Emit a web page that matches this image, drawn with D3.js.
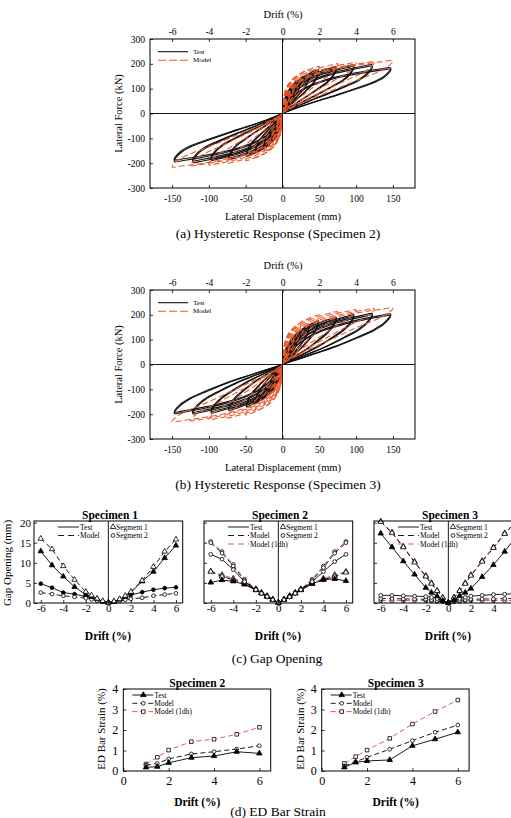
<!DOCTYPE html>
<html><head><meta charset="utf-8">
<script src="https://cdn.jsdelivr.net/npm/d3@7"></script>
<style>
body{margin:0;background:#fff}
svg text{font-family:"Liberation Serif","Times New Roman",serif;fill:#000}
</style>
</head><body>
<svg id="c" width="511" height="818"></svg>
<script>
// ================= DATA =================
// Hysteretic response panels
const dispTicks = [-150, -100, -50, 0, 50, 100, 150];
const forceTicks = [-300, -200, -100, 0, 100, 200, 300];
const driftTopTicks = [-6, -4, -2, 0, 2, 4, 6];

const testAmp  = [12.5, 19, 25, 37, 49, 73, 97, 122, 147];   // mm
const modelAmp = [12.5, 19, 25, 37.5, 50, 75, 100, 125, 150]; // mm
const loadFrac   = [0.04, 0.1, 0.2, 0.35, 0.55, 0.75, 0.9, 1];
const unloadFrac = [0.95, 0.85, 0.7, 0.5, 0.3, 0.15, 0.05, 0];

// Specimen 2 (test: first and second cycle peaks, kN)
const s2TestPosPeak   = [90, 115, 135, 160, 176, 188, 195, 196, 184];
const s2TestNegPeak   = [-88, -112, -132, -158, -172, -185, -188, -197, -193];
const s2TestPosPeak2  = [86, 110, 130, 154, 170, 182, 189, 190, 178];
const s2TestNegPeak2  = [-84, -108, -127, -152, -166, -179, -182, -190, -186];
const s2ModelPosPeak  = [110, 135, 155, 178, 190, 200, 205, 208, 213];
const s2ModelNegPeak  = [-110, -135, -155, -178, -190, -200, -207, -210, -215];
const s2TestLoad    = [0.2, 0.38, 0.55, 0.7, 0.83, 0.92, 0.975, 1];
const s2TestUnload  = [0.84, 0.7, 0.57, 0.41, 0.26, 0.14, 0.05, 0];
const s2ModelLoad   = [0.3, 0.5, 0.65, 0.77, 0.87, 0.94, 0.98, 1];
const s2ModelUnload = [0.88, 0.77, 0.65, 0.48, 0.31, 0.17, 0.07, 0];

// Specimen 3
const s3TestPosPeak   = [85, 110, 130, 158, 176, 190, 200, 205, 203];
const s3TestNegPeak   = [-85, -110, -130, -155, -170, -185, -195, -198, -197];
const s3TestPosPeak2  = [81, 105, 125, 152, 170, 184, 194, 199, 197];
const s3TestNegPeak2  = [-81, -105, -125, -149, -164, -179, -189, -192, -191];
const s3ModelPosPeak  = [105, 135, 158, 185, 200, 213, 220, 224, 227];
const s3ModelNegPeak  = [-110, -138, -160, -188, -203, -215, -222, -226, -230];
const s3TestLoad    = [0.15, 0.32, 0.5, 0.67, 0.81, 0.91, 0.97, 1];
const s3TestUnload  = [0.85, 0.7, 0.55, 0.37, 0.22, 0.11, 0.04, 0];
const s3ModelLoad   = [0.3, 0.5, 0.65, 0.77, 0.87, 0.94, 0.98, 1];
const s3ModelUnload = [0.9, 0.8, 0.68, 0.5, 0.32, 0.18, 0.07, 0];

// Gap opening panels
const gapDrift = [-6, -5, -4, -3, -2, -1.5, -1, -0.5, 0, 0.5, 1, 1.5, 2, 3, 4, 5, 6];
const gapYTicks = [0, 5, 10, 15, 20];
const gapXTicks = [-6, -4, -2, 0, 2, 4, 6];
// Specimen 1
const g1TestSeg1  = [12.9, 9.4, 6.6, 4.0, 2.1, 1.5, 1.0, 0.4, 0.1, 0.3, 0.9, 1.6, 2.6, 5.4, 7.8, 11.2, 14.3];
const g1ModelSeg1 = [16.0, 13.4, 9.2, 5.8, 2.8, 1.9, 1.1, 0.5, 0.1, 0.4, 1.0, 1.8, 2.8, 5.6, 9.0, 12.8, 15.8];
const g1TestSeg2  = [4.8, 3.8, 2.6, 2.2, 1.6, 1.2, 0.8, 0.4, 0.1, 0.3, 0.7, 1.2, 2.0, 2.7, 3.3, 3.7, 3.9];
const g1ModelSeg2 = [2.6, 2.2, 1.8, 1.5, 1.2, 0.9, 0.6, 0.3, 0.1, 0.3, 0.5, 0.8, 1.0, 1.3, 1.8, 2.1, 2.4];
// Specimen 2
const g2TestSeg1  = [5.1, 5.7, 5.4, 4.6, 3.2, 2.4, 1.6, 0.8, 0.1, 0.8, 1.6, 2.4, 3.2, 4.8, 5.8, 6.0, 5.5];
const g2TestSeg2  = [12.1, 10.9, 8.3, 5.3, 3.3, 2.4, 1.6, 0.8, 0.1, 0.8, 1.5, 2.4, 3.3, 5.3, 7.8, 10.3, 12.1];
const g2ModelSeg1 = [7.8, 6.6, 5.8, 4.8, 3.3, 2.5, 1.7, 0.9, 0.1, 0.9, 1.7, 2.5, 3.3, 4.8, 5.8, 6.6, 7.6];
const g2ModelSeg2 = [15.0, 12.4, 9.2, 5.6, 3.3, 2.4, 1.5, 0.8, 0.1, 0.8, 1.5, 2.4, 3.3, 5.6, 8.8, 12.4, 15.0];
const g2DhSeg1    = [7.9, 7.0, 6.1, 5.1, 3.5, 2.6, 1.8, 0.9, 0.1, 0.9, 1.8, 2.6, 3.5, 5.1, 6.1, 7.0, 7.8];
const g2DhSeg2    = [15.3, 12.8, 9.6, 5.9, 3.5, 2.5, 1.6, 0.8, 0.1, 0.8, 1.6, 2.5, 3.5, 5.9, 9.2, 12.8, 15.3];
// Specimen 3
const g3TestSeg1  = [17.3, 13.9, 10.4, 7.1, 3.8, 2.6, 1.7, 0.6, 0.1, 0.7, 1.8, 2.6, 3.6, 6.5, 9.5, 12.8, 16.5];
const g3ModelSeg1 = [20.2, 17.4, 13.9, 10.1, 6.6, 4.8, 3.0, 1.3, 0.1, 1.3, 3.0, 4.8, 6.8, 10.3, 13.7, 17.2, 20.2];
const g3DhSeg1    = [20.3, 17.6, 14.1, 10.3, 6.8, 5.0, 3.1, 1.4, 0.1, 1.4, 3.1, 5.0, 7.0, 10.5, 13.9, 17.4, 20.3];
const g3TestSeg2  = [1.9, 1.9, 1.8, 1.7, 1.6, 1.4, 1.1, 0.6, 0.1, 0.6, 1.1, 1.4, 1.7, 1.9, 2.1, 2.2, 2.3];
const g3ModelSeg2 = [1.1, 1.1, 1.0, 1.0, 0.9, 0.8, 0.6, 0.4, 0.1, 0.4, 0.6, 0.8, 0.9, 1.0, 1.0, 1.1, 1.1];
const g3DhSeg2    = [0.6, 0.6, 0.6, 0.6, 0.6, 0.5, 0.4, 0.3, 0.1, 0.3, 0.4, 0.5, 0.6, 0.6, 0.6, 0.6, 0.6];

// ED bar strain panels
const strainDrift = [1, 1.5, 2, 3, 4, 5, 6];
const strainYTicks = [0, 1, 2, 3, 4];
const strainXTicks = [0, 2, 4, 6];
const s2StrainTest  = [0.18, 0.21, 0.40, 0.65, 0.73, 0.94, 0.86];
const s2StrainModel = [0.28, 0.37, 0.59, 0.83, 0.94, 1.07, 1.23];
const s2StrainDh    = [0.34, 0.67, 1.02, 1.43, 1.55, 1.79, 2.13];
const s3StrainTest  = [0.18, 0.42, 0.49, 0.54, 1.23, 1.55, 1.89];
const s3StrainModel = [0.25, 0.45, 0.67, 1.06, 1.48, 1.89, 2.24];
const s3StrainDh    = [0.37, 0.70, 1.02, 1.59, 2.29, 2.90, 3.46];

// ================= DRAWING =================
const FONT = '"Liberation Serif","Times New Roman",serif';
const ORANGE = '#ee5a2c';
const RED = '#e8413a';
const svg = d3.select('#c');
const defs = svg.append('defs');
let clipN = 0;

function styleAxis(g, size) {
  g.attr('font-family', FONT).attr('font-size', size);
  g.select('.domain').remove();
  g.selectAll('.tick line').attr('stroke', '#000').attr('stroke-width', 0.8);
}
function txt(x, y, s, size, opts = {}) {
  const t = svg.append('text').attr('x', x).attr('y', y).text(s)
    .attr('font-size', size).attr('text-anchor', opts.anchor || 'middle')
    .attr('dominant-baseline', 'central');
  if (opts.bold) t.attr('font-weight', 'bold');
  if (opts.rotate) t.attr('transform', `rotate(-90,${x},${y})`);
  return t;
}
function addClip(x, y, w, h) {
  const id = 'clip' + (clipN++);
  defs.append('clipPath').attr('id', id).append('rect')
    .attr('x', x).attr('y', y).attr('width', w).attr('height', h);
  return `url(#${id})`;
}
function loopPts(A, pP, pN, load, unload) {
  const pts = [[0, 0]];
  loadFrac.forEach((f, k) => pts.push([f * A, load[k] * pP]));
  unloadFrac.forEach((f, k) => pts.push([f * A, unload[k] * pP]));
  loadFrac.forEach((f, k) => pts.push([-f * A, load[k] * pN]));
  unloadFrac.forEach((f, k) => pts.push([-f * A, unload[k] * pN]));
  return pts;
}

function hystPanel(top, test, model, caption) {
  const left = 150, right = 415, bottom = top + 149;
  const x = d3.scaleLinear().domain([-180, 180]).range([left, right]);
  const xd = d3.scaleLinear().domain([-7.2, 7.2]).range([left, right]);
  const y = d3.scaleLinear().domain([-300, 300]).range([bottom, top]);
  const g = svg.append('g').attr('clip-path', addClip(left, top, right - left, bottom - top));
  const line = d3.line().x(d => x(d[0])).y(d => y(d[1])).curve(d3.curveCatmullRom.alpha(0.5));
  testAmp.forEach((A, i) => {
    [[test.pos, test.neg], [test.pos2, test.neg2]].forEach(pk => {
      g.append('path').attr('d', line(loopPts(A, pk[0][i], pk[1][i], test.load, test.unload)))
        .attr('fill', 'none').attr('stroke', '#111').attr('stroke-width', 1.15);
    });
  });
  modelAmp.forEach((A, i) => {
    g.append('path').attr('d', line(loopPts(A, model.pos[i], model.neg[i], model.load, model.unload)))
      .attr('fill', 'none').attr('stroke', ORANGE).attr('stroke-width', 1.1).attr('stroke-dasharray', '6,3');
  });
  svg.append('line').attr('x1', x(0)).attr('x2', x(0)).attr('y1', top).attr('y2', bottom).attr('stroke', '#000').attr('stroke-width', 0.9);
  svg.append('line').attr('x1', left).attr('x2', right).attr('y1', y(0)).attr('y2', y(0)).attr('stroke', '#000').attr('stroke-width', 0.9);
  svg.append('rect').attr('x', left).attr('y', top).attr('width', right - left).attr('height', bottom - top)
    .attr('fill', 'none').attr('stroke', '#000').attr('stroke-width', 1);
  styleAxis(svg.append('g').attr('transform', `translate(0,${bottom})`)
    .call(d3.axisBottom(x).tickValues(dispTicks).tickSize(-3).tickPadding(7).tickFormat(d => String(d))), 9.5);
  styleAxis(svg.append('g').attr('transform', `translate(${left},0)`)
    .call(d3.axisLeft(y).tickValues(forceTicks).tickSize(-3).tickPadding(5).tickFormat(d => String(d))), 9.5);
  styleAxis(svg.append('g').attr('transform', `translate(0,${top})`)
    .call(d3.axisTop(xd).tickValues(driftTopTicks).tickSize(-3).tickPadding(4).tickFormat(d => String(d))), 9.5);
  txt(283, top - 25, 'Drift (%)', 10.5);
  txt(283, bottom + 28, 'Lateral Displacement (mm)', 10.5);
  txt(118, (top + bottom) / 2, 'Lateral Force (kN)', 10.5, {rotate: true});
  txt(278, bottom + 45, caption, 13.5);
  // legend
  const ly = top + 12.7;
  svg.append('rect').attr('x', 156).attr('y', ly - 5).attr('width', 50).attr('height', 18).attr('fill', '#fff');
  svg.append('line').attr('x1', 158).attr('x2', 188).attr('y1', ly).attr('y2', ly).attr('stroke', '#111').attr('stroke-width', 1.1);
  svg.append('line').attr('x1', 158).attr('x2', 188).attr('y1', ly + 8.5).attr('y2', ly + 8.5).attr('stroke', ORANGE)
    .attr('stroke-width', 1.1).attr('stroke-dasharray', '8,3');
  txt(193, ly, 'Test', 7, {anchor: 'start'});
  txt(193, ly + 8.5, 'Model', 7, {anchor: 'start'});
}

hystPanel(39,
  {pos: s2TestPosPeak, neg: s2TestNegPeak, pos2: s2TestPosPeak2, neg2: s2TestNegPeak2, load: s2TestLoad, unload: s2TestUnload},
  {pos: s2ModelPosPeak, neg: s2ModelNegPeak, load: s2ModelLoad, unload: s2ModelUnload},
  '(a) Hysteretic Response (Specimen 2)');
hystPanel(290,
  {pos: s3TestPosPeak, neg: s3TestNegPeak, pos2: s3TestPosPeak2, neg2: s3TestNegPeak2, load: s3TestLoad, unload: s3TestUnload},
  {pos: s3ModelPosPeak, neg: s3ModelNegPeak, load: s3ModelLoad, unload: s3ModelUnload},
  '(b) Hysteretic Response (Specimen 3)');

function mark(g, type, cx, cy, fill) {
  const sym = type === 'tri' ? d3.symbolTriangle : type === 'sq' ? d3.symbolSquare : d3.symbolCircle;
  const size = type === 'tri' ? 13 : type === 'sq' ? 13 : 11;
  g.append('path').attr('d', d3.symbol(sym, size)()).attr('transform', `translate(${cx},${cy})`)
    .attr('fill', fill).attr('stroke', '#000').attr('stroke-width', 0.8);
}

function seriesDraw(g, x, y, xs, ys, style) {
  const line = d3.line().x((d, i) => x(xs[i])).y(d => y(d));
  g.append('path').attr('d', line(ys)).attr('fill', 'none').attr('stroke', style.color)
    .attr('stroke-width', 0.9).attr('stroke-dasharray', style.dash || null);
  ys.forEach((v, i) => mark(g, style.marker, x(xs[i]), y(v), style.fill));
}

const TEST = {color: '#000', dash: null, fill: '#000'};
const MODEL = {color: '#000', dash: '5,3', fill: '#fff'};
const DH = {color: RED, dash: '5,3', fill: '#fff'};

function gapPanel(x0, title, series, showY, hasDh) {
  const top = 521, bottom = 603, w = 148.7;
  const x = d3.scaleLinear().domain([-6.6, 6.6]).range([x0, x0 + w]);
  const y = d3.scaleLinear().domain([0, 20.4]).range([bottom, top]);
  const g = svg.append('g').attr('clip-path', addClip(x0, top - 4, w, bottom - top + 8));
  series.forEach(s => seriesDraw(g, x, y, gapDrift, s.v, Object.assign({marker: s.m}, s.st)));
  svg.append('line').attr('x1', x(0)).attr('x2', x(0)).attr('y1', top).attr('y2', bottom).attr('stroke', '#000').attr('stroke-width', 0.9);
  svg.append('rect').attr('x', x0).attr('y', top).attr('width', w).attr('height', bottom - top)
    .attr('fill', 'none').attr('stroke', '#000').attr('stroke-width', 1);
  styleAxis(svg.append('g').attr('transform', `translate(0,${bottom})`)
    .call(d3.axisBottom(x).tickValues(gapXTicks.filter(t => x(t) < 508)).tickSize(-3).tickPadding(1).tickFormat(d => String(d))), 11);
  const ya = svg.append('g').attr('transform', `translate(${x0},0)`)
    .call(d3.axisLeft(y).tickValues(gapYTicks).tickSize(-3).tickPadding(3).tickFormat(d => showY ? String(d) : ''));
  styleAxis(ya, 11);
  txt(x0 + 76, 515, title, 11.5, {bold: true});
  txt(x0 + 74, 636, 'Drift (%)', 11.5, {bold: true});
  // legend
  const lg = svg.append('g');
  const rows = [['Test', TEST], ['Model', MODEL]];
  if (hasDh) rows.push(['Model (1dh)', DH]);
  rows.forEach((r, i) => {
    const ly = 527 + i * 8.5;
    lg.append('line').attr('x1', x0 + 24).attr('x2', x0 + 45).attr('y1', ly).attr('y2', ly)
      .attr('stroke', r[1].color).attr('stroke-width', 0.9).attr('stroke-dasharray', r[1].dash ? '6,4' : null);
    txt(x0 + 46, ly, r[0], 7.5, {anchor: 'start'});
  });
  [['tri', 'Segment 1'], ['circle', 'Segment 2']].forEach((r, i) => {
    const ly = 527 + i * 8.5;
    mark(lg, r[0], x0 + 79, ly, '#fff');
    txt(x0 + 82, ly, r[1], 7.5, {anchor: 'start'});
  });
}

gapPanel(34, 'Specimen 1', [
  {v: g1TestSeg2, m: 'circle', st: TEST},
  {v: g1ModelSeg2, m: 'circle', st: MODEL},
  {v: g1TestSeg1, m: 'tri', st: TEST},
  {v: g1ModelSeg1, m: 'tri', st: MODEL}
], true, false);
gapPanel(204, 'Specimen 2', [
  {v: g2DhSeg1, m: 'tri', st: DH},
  {v: g2DhSeg2, m: 'circle', st: DH},
  {v: g2ModelSeg1, m: 'tri', st: MODEL},
  {v: g2ModelSeg2, m: 'circle', st: MODEL},
  {v: g2TestSeg1, m: 'tri', st: TEST},
  {v: g2TestSeg2, m: 'circle', st: Object.assign({}, TEST, {fill: '#fff'})}
], false, true);
gapPanel(374, 'Specimen 3', [
  {v: g3DhSeg2, m: 'circle', st: DH},
  {v: g3ModelSeg2, m: 'circle', st: MODEL},
  {v: g3TestSeg2, m: 'circle', st: Object.assign({}, TEST, {fill: '#fff'})},
  {v: g3DhSeg1, m: 'tri', st: DH},
  {v: g3ModelSeg1, m: 'tri', st: MODEL},
  {v: g3TestSeg1, m: 'tri', st: TEST}
], false, true);
txt(277, 658, '(c) Gap Opening', 13.5);

function strainPanel(x0, title, test, model, dh) {
  const top = 689, bottom = 771, w = 147.4;
  const x = d3.scaleLinear().domain([0, 6.5]).range([x0, x0 + w]);
  const y = d3.scaleLinear().domain([0, 4]).range([bottom, top]);
  const g = svg.append('g').attr('clip-path', addClip(x0, top - 4, w, bottom - top + 8));
  seriesDraw(g, x, y, strainDrift, dh, Object.assign({marker: 'sq'}, DH));
  seriesDraw(g, x, y, strainDrift, model, Object.assign({marker: 'circle'}, MODEL));
  seriesDraw(g, x, y, strainDrift, test, Object.assign({marker: 'tri'}, TEST));
  svg.append('rect').attr('x', x0).attr('y', top).attr('width', w).attr('height', bottom - top)
    .attr('fill', 'none').attr('stroke', '#000').attr('stroke-width', 1);
  styleAxis(svg.append('g').attr('transform', `translate(0,${bottom})`)
    .call(d3.axisBottom(x).tickValues(strainXTicks).tickSize(-3).tickPadding(5).tickFormat(d => String(d))), 12);
  styleAxis(svg.append('g').attr('transform', `translate(${x0},0)`)
    .call(d3.axisLeft(y).tickValues(strainYTicks).tickSize(-3).tickPadding(5).tickFormat(d => String(d))), 12);
  txt(x0 + 74, 683, title, 11.5, {bold: true});
  txt(x0 + 74, 802, 'Drift (%)', 11.5, {bold: true});
  txt(x0 - 22, 729, 'ED Bar Strain (%)', 11, {rotate: true});
  const lg = svg.append('g');
  [['Test', TEST, 'tri'], ['Model', MODEL, 'circle'], ['Model (1dh)', DH, 'sq']].forEach((r, i) => {
    const ly = 695 + i * 8.3;
    lg.append('line').attr('x1', x0 + 9).attr('x2', x0 + 30).attr('y1', ly).attr('y2', ly)
      .attr('stroke', r[1].color).attr('stroke-width', 0.9).attr('stroke-dasharray', r[1].dash ? '5,3' : null);
    mark(lg, r[2], x0 + 20, ly, r[1].fill);
    txt(x0 + 31, ly, r[0], 7.5, {anchor: 'start'});
  });
}
strainPanel(123.3, 'Specimen 2', s2StrainTest, s2StrainModel, s2StrainDh);
strainPanel(321.7, 'Specimen 3', s3StrainTest, s3StrainModel, s3StrainDh);
txt(278, 811, '(d) ED Bar Strain', 13.5);
txt(7, 563, 'Gap Opening (mm)', 11, {rotate: true});
</script>
</body></html>
